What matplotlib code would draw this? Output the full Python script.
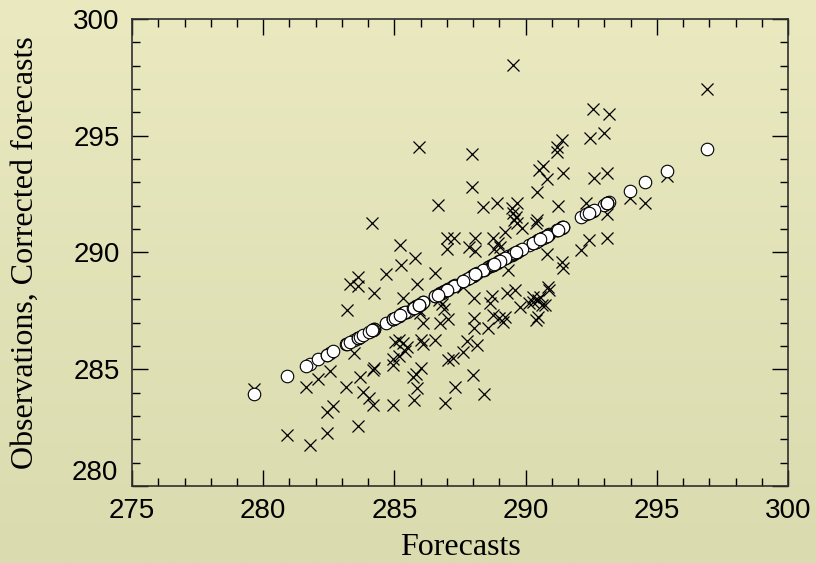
import numpy as np
import matplotlib
matplotlib.use("Agg")
import matplotlib.pyplot as plt
from matplotlib.ticker import MultipleLocator, FuncFormatter

# forecast / observation pairs and the regression-corrected forecast for each
forecasts = [
    279.65, 280.90, 281.78, 281.62, 282.10, 282.55, 282.44, 282.44, 282.67, 283.60,
    283.17, 283.45, 283.19, 283.31, 283.60, 283.60, 284.21, 284.67, 285.26, 285.79,
    286.56, 285.85, 285.34, 283.69, 283.82, 284.03, 284.20, 284.95, 284.24, 284.20,
    284.95, 284.96, 285.16, 285.19, 285.34, 285.47, 285.42, 285.72, 285.82, 285.87,
    285.74, 286.00, 286.01, 286.10, 286.55, 285.98, 286.10, 285.93, 286.74, 287.05,
    286.80, 286.89, 286.71, 287.03, 287.24, 286.93, 287.31, 286.99, 285.02, 287.63,
    287.78, 288.14, 288.00, 288.41, 288.05, 288.05, 288.58, 288.03, 288.64, 288.71,
    288.77, 289.00, 289.15, 289.21, 289.28, 289.60, 289.79, 290.14, 290.30, 290.49,
    290.61, 290.74, 290.40, 290.49, 290.90, 290.80, 291.40, 291.44, 292.10, 289.34,
    290.87, 289.53, 296.90, 292.56, 293.19, 292.45, 292.99, 291.37, 291.21, 291.18,
    287.95, 287.95, 291.44, 292.60, 293.09, 290.65, 290.52, 290.80, 290.44, 293.98,
    294.55, 295.38, 288.39, 288.90, 289.47, 289.66, 289.51, 289.56, 289.66, 289.85,
    290.44, 290.39, 291.22, 292.32, 293.09, 293.09, 292.43, 287.27, 288.07, 287.85,
    288.07, 288.77, 288.93, 289.21, 289.02, 288.79, 286.99, 285.92, 286.67, 284.16,
    285.21, 290.28, 290.55, 289.63, 287.63,
]
observations = [
    284.14, 282.17, 281.76, 284.25, 284.57, 284.94, 282.28, 283.16, 283.44, 282.56,
    284.25, 285.68, 287.54, 288.64, 288.96, 288.57, 288.25, 289.07, 289.46, 289.75,
    289.14, 288.65, 288.04, 284.66, 284.04, 283.76, 283.47, 283.46, 285.04, 284.98,
    285.43, 285.18, 285.57, 286.25, 286.11, 285.97, 285.80, 284.68, 284.79, 284.18,
    283.68, 285.04, 286.25, 286.10, 286.25, 287.40, 286.97, 287.55, 286.97, 287.14,
    287.80, 287.57, 287.95, 285.40, 285.47, 283.54, 284.25, 290.15, 286.18, 285.75,
    286.22, 286.04, 284.75, 283.94, 287.18, 286.75, 286.75, 288.04, 287.82, 288.14,
    287.32, 287.18, 287.04, 287.25, 288.25, 288.40, 287.68, 287.82, 287.89, 287.97,
    287.75, 287.75, 287.11, 287.25, 288.39, 289.94, 289.61, 289.32, 290.10, 289.25,
    288.54, 298.03, 297.00, 296.13, 295.92, 294.92, 295.13, 294.82, 294.53, 294.32,
    294.22, 292.82, 293.42, 293.20, 293.39, 293.72, 293.53, 293.13, 292.60, 292.32,
    292.13, 293.29, 291.96, 292.13, 291.89, 292.13, 291.68, 291.39, 291.25, 291.04,
    291.39, 291.25, 292.00, 292.13, 291.65, 290.63, 290.54, 290.63, 290.63, 290.22,
    290.08, 290.61, 290.42, 290.86, 290.25, 290.16, 290.63, 294.53, 292.03, 291.25,
    290.32, 288.10, 288.08, 291.50, 288.54,
]
corrected = [
    283.93, 284.69, 285.23, 285.13, 285.42, 285.70, 285.63, 285.63, 285.77, 286.33,
    286.07, 286.24, 286.08, 286.16, 286.33, 286.33, 286.71, 286.99, 287.35, 287.67,
    288.14, 287.70, 287.39, 286.39, 286.47, 286.60, 286.70, 287.16, 286.72, 286.70,
    287.16, 287.16, 287.28, 287.30, 287.39, 287.47, 287.44, 287.63, 287.69, 287.72,
    287.64, 287.80, 287.80, 287.86, 288.13, 287.78, 287.86, 287.75, 288.25, 288.43,
    288.28, 288.34, 288.23, 288.42, 288.55, 288.36, 288.59, 288.40, 287.20, 288.79,
    288.88, 289.10, 289.01, 289.26, 289.04, 289.04, 289.37, 289.03, 289.40, 289.45,
    289.48, 289.62, 289.71, 289.75, 289.79, 289.99, 290.10, 290.32, 290.41, 290.53,
    290.60, 290.68, 290.47, 290.53, 290.78, 290.72, 291.08, 291.11, 291.51, 289.83,
    290.76, 289.94, 294.43, 291.79, 292.17, 291.72, 292.05, 291.06, 290.97, 290.95,
    288.98, 288.98, 291.11, 291.81, 292.11, 290.63, 290.55, 290.72, 290.50, 292.65,
    293.00, 293.51, 289.25, 289.56, 289.91, 290.02, 289.93, 289.96, 290.02, 290.14,
    290.50, 290.47, 290.97, 291.64, 292.11, 292.11, 291.71, 288.57, 289.06, 288.92,
    289.06, 289.48, 289.58, 289.75, 289.63, 289.49, 288.40, 287.75, 288.20, 286.68,
    287.31, 290.40, 290.57, 290.01, 288.79,
]

x_range = (275, 300)
y_range = (280, 300)

fig = plt.figure(figsize=(8.16, 5.63), dpi=100)

# soft vertical gradient behind everything
bg = fig.add_axes([0, 0, 1, 1], zorder=-10)
grad = np.linspace(0, 1, 256).reshape(-1, 1)
top = np.array([234, 233, 192]) / 255.0
bot = np.array([218, 219, 175]) / 255.0
img = top[None, None, :] * (1 - grad[:, :, None]) + bot[None, None, :] * grad[:, :, None]
bg.imshow(img, aspect="auto", extent=[0, 1, 0, 1], origin="upper")
bg.axis("off")

ax = fig.add_axes([0.1618, 0.1368, 0.8039, 0.8295])
ax.set_facecolor("none")

ax.plot(forecasts, observations, "x", color="black", markersize=9,
        markeredgewidth=0.9, zorder=3)
ax.plot(forecasts, corrected, "o", markerfacecolor="white",
        markeredgecolor="black", markersize=9, markeredgewidth=0.8, zorder=4)

ax.set_xlim(*x_range)
ax.set_ylim(*y_range)
ax.xaxis.set_major_locator(MultipleLocator(5))
ax.xaxis.set_minor_locator(MultipleLocator(1))
ax.yaxis.set_major_locator(MultipleLocator(5))
ax.yaxis.set_minor_locator(MultipleLocator(1))

# the bottom y label is drawn separately, raised above the x labels
ax.yaxis.set_major_formatter(
    FuncFormatter(lambda v, pos: "" if v == y_range[0] else "%d" % v))
ax.annotate("%d" % y_range[0], xy=(0, y_range[0]),
            xycoords=("axes fraction", "data"), xytext=(-10, 0),
            textcoords="offset points", ha="right", va="bottom",
            fontsize=20, family="Liberation Sans")

ax.tick_params(which="both", direction="in", top=True, right=True,
               color="black", width=1.0)
ax.tick_params(which="major", length=11.5, labelsize=20)
ax.tick_params(axis="x", which="major", pad=9)
ax.tick_params(axis="y", which="major", pad=9)
ax.tick_params(which="minor", length=6)
for lab in ax.get_xticklabels() + ax.get_yticklabels():
    lab.set_family("Liberation Sans")

for sp in ax.spines.values():
    sp.set_linewidth(1.2)
    sp.set_color("#303030")

ax.set_xlabel("Forecasts", fontsize=23, family="Liberation Serif", labelpad=6)
ax.set_ylabel("Observations, Corrected forecasts", fontsize=23,
              family="Liberation Serif", labelpad=24)

fig.savefig("out.png", dpi=100)
